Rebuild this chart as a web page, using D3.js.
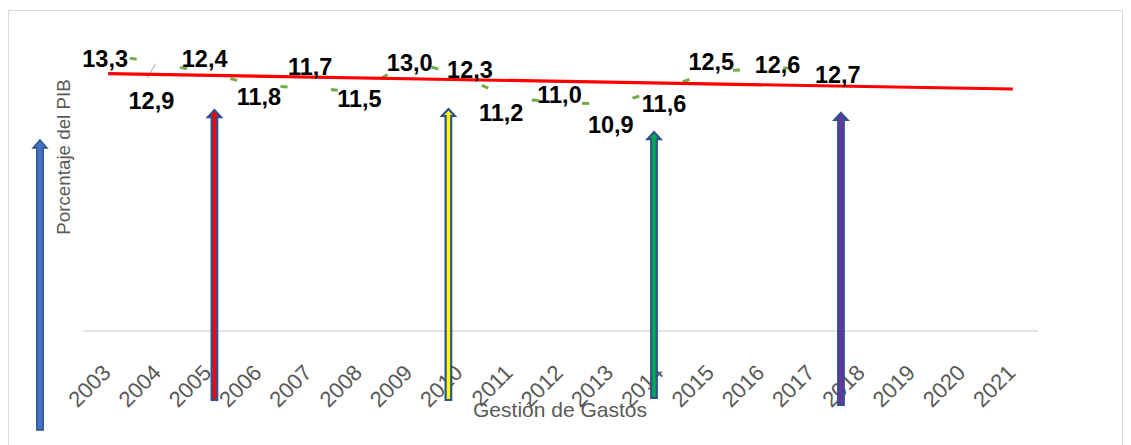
<!DOCTYPE html>
<html>
<head>
<meta charset="utf-8">
<script src="https://cdn.jsdelivr.net/npm/d3@7"></script>
<style>
  html, body { margin: 0; padding: 0; background: #ffffff; }
  svg { display: block; }
</style>
</head>
<body>
<svg id="chart" width="1131" height="445"></svg>
<script>
// ---------------- data ----------------
const years = ["2003","2004","2005","2006","2007","2008","2009","2010","2011","2012",
               "2013","2014","2015","2016","2017","2018","2019","2020","2021"];
const dataYears = ["2003","2004","2005","2006","2007","2008","2009","2010","2011","2012",
                   "2013","2014","2015","2016","2017"];
const values = [13.3, 12.9, 12.4, 11.8, 11.7, 11.5, 13.0, 12.3, 11.2, 11.0, 10.9, 11.6, 12.5, 12.6, 12.7];
const xTitle = "Gestión de Gastos";
const yTitle = "Porcentaje del PIB";
// annotation arrows (year position, tip value, bottom value, inner colour)
const arrowYears  = [2005.115, 2009.77, 2013.86, 2017.58];
const arrowTips   = [10.63, 10.68, 9.57, 10.49];
const arrowBottoms= [-3.32, -3.32, -3.22, -3.55];
const arrowColors = ["#FF0000", "#FFFF00", "#00B050", "#7030A0"];

// ---------------- layout (label offsets in px) ----------------
const labelDx = [-3, -7, -4, 0, 1, 0, 0, 10, -9, -1, 0, 3, 0, 16, 26];
const labelDy = [12, 46, -6, 19, -13, 15, 10, 3, 23, 1, 29, 22, -1, 4, 16];

const FONT = "'Liberation Sans', Arial, sans-serif";
const svg = d3.select("#chart");

// chart border
svg.append("rect")
  .attr("x", 8.5).attr("y", 10.5).attr("width", 1114).attr("height", 445)
  .attr("fill", "none").attr("stroke", "#d9d9d9").attr("stroke-width", 1);

const x = d3.scaleBand().domain(years).range([83, 1038]).padding(0);
const y = d3.scaleLinear().domain([0, 14]).range([331, 40]);
const cx = d => x(d) + x.bandwidth() / 2;
const pos = yr => { // continuous year position
  const f = Math.floor(yr);
  return cx(String(f)) + (yr - f) * x.step();
};

// baseline gridline
svg.append("line")
  .attr("x1", x.range()[0]).attr("x2", x.range()[1])
  .attr("y1", y(0)).attr("y2", y(0))
  .attr("stroke", "#d9d9d9").attr("stroke-width", 1.5);

// x axis
const xAxis = svg.append("g")
  .attr("transform", `translate(0,${y(0)})`)
  .call(d3.axisBottom(x).tickSize(0));
xAxis.select(".domain").remove();
xAxis.selectAll("text")
  .attr("x", 0).attr("y", 0).attr("dy", 0)
  .attr("text-anchor", "end")
  .attr("transform", "translate(4,43) rotate(-45)")
  .attr("fill", "#595959")
  .style("font-family", FONT)
  .style("font-size", "22px");

// axis titles
svg.append("text")
  .attr("x", 560).attr("y", 417)
  .attr("text-anchor", "middle")
  .attr("fill", "#595959")
  .style("font-family", FONT)
  .style("font-size", "21px")
  .text(xTitle);
svg.append("text")
  .attr("transform", "translate(70,157) rotate(-90)")
  .attr("text-anchor", "middle")
  .attr("fill", "#595959")
  .style("font-family", FONT)
  .style("font-size", "18.8px")
  .text(yTitle);

// data line: only short green pieces visible at segment midpoints
const pts = dataYears.map((yr, i) => [cx(yr), y(values[i])]);
const segs = d3.pairs(pts);
svg.append("g").selectAll("line").data(segs).join("line")
  .attr("x1", d => d[0][0]).attr("y1", d => d[0][1])
  .attr("x2", d => d[1][0]).attr("y2", d => d[1][1])
  .attr("stroke", "#70AD47").attr("stroke-width", 3)
  .attr("stroke-dasharray", d => {
    const L = Math.hypot(d[1][0] - d[0][0], d[1][1] - d[0][1]);
    const dash = 7;
    return `0 ${(L - dash) / 2} ${dash} ${L}`;
  });

// leader line for 2004 label
svg.append("line")
  .attr("x1", pts[1][0] - 11).attr("y1", pts[1][1] + 15)
  .attr("x2", pts[1][0] - 3).attr("y2", pts[1][1] + 1)
  .attr("stroke", "#a6a6a6").attr("stroke-width", 1);

// trend line (linear regression extended over all categories)
const idx = values.map((v, i) => i);
const mx = d3.mean(idx), my = d3.mean(values);
const slope = d3.sum(idx, i => (i - mx) * (values[i] - my)) / d3.sum(idx, i => (i - mx) ** 2);
const icpt = my - slope * mx;
const trendPts = [0, years.length - 1].map(i => [cx(years[i]), y(icpt + slope * i)]);
svg.append("path")
  .attr("d", d3.line()(trendPts))
  .attr("stroke", "#FF0000").attr("stroke-width", 3.2).attr("fill", "none");

// data labels
const fmt = v => d3.format(".1f")(v).replace(".", ",");
svg.append("g").selectAll("text").data(values).join("text")
  .attr("x", (v, i) => pts[i][0] + labelDx[i])
  .attr("y", (v, i) => pts[i][1] + labelDy[i])
  .attr("text-anchor", "middle")
  .attr("fill", "#000")
  .style("font-family", FONT)
  .style("font-weight", "bold")
  .style("font-size", "23.5px")
  .text(fmt);

// arrows
function arrowPath(xc, top, bottom, sw, hw, hh) {
  return `M${xc},${top} L${xc + hw},${top + hh} L${xc + sw},${top + hh} L${xc + sw},${bottom}` +
         ` L${xc - sw},${bottom} L${xc - sw},${top + hh} L${xc - hw},${top + hh} Z`;
}
svg.append("g").selectAll("path").data(arrowYears).join("path")
  .attr("d", (yr, i) => arrowPath(pos(yr), y(arrowTips[i]), y(arrowBottoms[i]), 2.8, 6.5, 7))
  .attr("fill", (yr, i) => arrowColors[i])
  .attr("stroke", "#2F528F").attr("stroke-width", 2.2)
  .attr("stroke-linejoin", "miter");

// left decorative arrow
svg.append("path")
  .attr("d", arrowPath(40, 140, 430, 3.2, 7, 8))
  .attr("fill", "#4472C4").attr("stroke", "#2F528F").attr("stroke-width", 1.5);
</script>
</body>
</html>
